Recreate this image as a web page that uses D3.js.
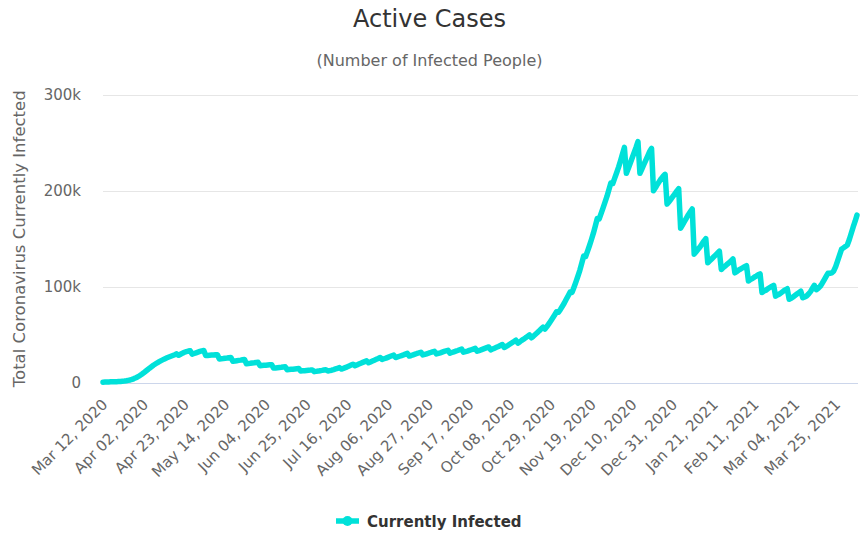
<!DOCTYPE html>
<html>
<head>
<meta charset="utf-8">
<script src="https://cdn.jsdelivr.net/npm/d3@7"></script>
<style>
  body { margin: 0; background: #fff; }
  .axis-label { font-family: "DejaVu Sans", sans-serif; fill: #666; }
</style>
</head>
<body>
<div id="chart-active"></div>
<script>
// daily values, thousands of people, starting Mar 12 2020 (one row = one week, Thu..Wed)
var startDate = "2020-03-12";
var currentlyInfectedK = [
    0.9, 1.0, 1.0, 1.1, 1.2, 1.2, 1.3,
    1.4, 1.5, 1.6, 1.8, 2.0, 2.3, 2.7,
    3.1, 3.8, 4.6, 5.5, 6.5, 7.7, 9.1,
    10.6, 12.2, 13.8, 15.4, 16.9, 18.4, 19.7,
    21.0, 22.2, 23.3, 24.3, 25.3, 26.2, 27.0,
    27.8, 28.6, 29.4, 30.3, 28.8, 29.9, 31.0,
    32.0, 32.7, 33.2, 33.5, 30.0, 30.7, 31.4,
    32.1, 32.8, 33.4, 33.8, 28.5, 28.7, 28.9,
    29.1, 29.2, 29.4, 29.5, 25.0, 25.3, 25.5,
    25.8, 26.0, 26.3, 26.5, 22.5, 22.8, 23.2,
    23.5, 23.8, 24.2, 24.5, 20.0, 20.3, 20.5,
    20.8, 21.0, 21.3, 21.5, 18.0, 18.2, 18.4,
    18.5, 18.7, 18.9, 19.0, 15.5, 15.7, 15.9,
    16.1, 16.3, 16.6, 16.8, 13.8, 14.0, 14.2,
    14.4, 14.6, 14.8, 15.0, 12.5, 12.7, 12.8,
    13.0, 13.2, 13.4, 13.5, 11.8, 12.1, 12.4,
    12.8, 13.1, 13.5, 13.8, 12.5, 12.9, 13.3,
    13.9, 14.6, 15.3, 16.0, 14.5, 15.2, 16.0,
    16.8, 17.7, 18.6, 19.5, 18.0, 18.8, 19.7,
    20.6, 21.4, 22.2, 23.0, 21.0, 21.9, 22.8,
    23.7, 24.6, 25.5, 26.5, 24.5, 25.2, 25.9,
    26.7, 27.5, 28.3, 29.0, 26.5, 27.1, 27.8,
    28.5, 29.2, 30.0, 30.8, 28.0, 28.6, 29.3,
    30.0, 30.7, 31.3, 32.0, 29.2, 29.8, 30.4,
    31.0, 31.7, 32.4, 33.0, 30.2, 30.8, 31.4,
    32.1, 32.8, 33.4, 34.0, 31.0, 31.7, 32.4,
    33.1, 33.8, 34.6, 35.3, 32.0, 32.6, 33.2,
    33.9, 34.6, 35.3, 36.0, 33.0, 33.7, 34.4,
    35.2, 36.0, 36.8, 37.5, 34.5, 35.3, 36.2,
    37.1, 38.0, 39.0, 40.0, 37.0, 38.0, 39.2,
    40.5, 41.8, 43.1, 44.5, 41.5, 42.8, 44.3,
    45.6, 47.0, 48.5, 50.0, 47.0, 48.6, 50.4,
    52.2, 54.2, 56.1, 58.0, 56.0, 58.6, 61.5,
    64.5, 67.6, 70.8, 74.0, 73.5, 76.5, 79.8,
    83.2, 87.0, 90.8, 94.5, 94.2, 99.6, 105.2,
    111.0, 117.2, 124.5, 132.0, 131.6, 137.2, 143.0,
    149.2, 155.8, 163.2, 171.0, 170.6, 176.4, 182.2,
    188.0, 194.0, 201.0, 208.0, 207.4, 213.0, 218.6,
    224.5, 231.0, 238.0, 245.0, 218.0, 223.0, 228.5,
    234.0, 239.5, 245.0, 251.0, 218.0, 222.5, 227.0,
    231.5, 236.0, 240.5, 244.0, 200.0, 203.0, 206.5,
    209.5, 212.5, 215.0, 217.0, 186.0, 188.5, 191.0,
    194.0, 196.5, 199.5, 202.0, 161.0, 164.5, 168.0,
    171.5, 175.0, 178.0, 181.0, 134.0, 136.5, 139.0,
    141.5, 144.5, 147.5, 150.0, 125.0, 127.0, 129.0,
    131.0, 133.0, 135.0, 137.0, 118.0, 120.0, 121.5,
    123.5, 125.0, 127.0, 129.0, 114.5, 116.0, 117.5,
    118.5, 119.8, 121.0, 122.0, 106.0, 107.5, 108.5,
    110.0, 111.2, 112.5, 113.5, 94.0, 95.5, 96.5,
    98.0, 99.3, 100.5, 101.6, 90.3, 91.5, 92.5,
    94.0, 95.5, 96.8, 98.0, 87.0, 88.0, 89.5,
    91.0, 92.5, 94.0, 95.5, 88.6, 89.5, 90.5,
    92.5, 95.0, 98.5, 101.6, 97.0, 98.5, 100.5,
    103.5, 107.0, 110.5, 114.0, 114.0, 114.5, 116.5,
    121.0, 127.0, 133.0, 139.0, 140.5, 142.0, 143.5,
    149.0, 155.5, 162.0, 168.0, 174.5
];
var xTickLabels = ["Mar 12, 2020", "Apr 02, 2020", "Apr 23, 2020", "May 14, 2020", "Jun 04, 2020",
    "Jun 25, 2020", "Jul 16, 2020", "Aug 06, 2020", "Aug 27, 2020", "Sep 17, 2020", "Oct 08, 2020",
    "Oct 29, 2020", "Nov 19, 2020", "Dec 10, 2020", "Dec 31, 2020", "Jan 21, 2021", "Feb 11, 2021",
    "Mar 04, 2021", "Mar 25, 2021"];
var yTicks = [0, 100000, 200000, 300000];
var yTickLabels = ["0", "100k", "200k", "300k"];
var seriesName = "Currently Infected";

var lineColor = "#00e1d9";
var width = 866, height = 540;
var plot = { left: 103, right: 857, top: 94.5, bottom: 383 };

var parseIso = d3.utcParse("%Y-%m-%d");
var parseTick = d3.utcParse("%b %d, %Y");
var t0 = parseIso(startDate);

var data = currentlyInfectedK.map(function(v, i) {
    return { date: d3.utcDay.offset(t0, i), value: v * 1000 };
});

var x = d3.scaleUtc()
    .domain(d3.extent(data, function(d) { return d.date; }))
    .range([plot.left, plot.right]);
var y = d3.scaleLinear()
    .domain([0, 300000])
    .range([plot.bottom, plot.top]);

var svg = d3.select("#chart-active").append("svg")
    .attr("width", width)
    .attr("height", height)
    .style("font-family", "'DejaVu Sans', sans-serif");

// grid lines
svg.append("g")
    .selectAll("line")
    .data(yTicks.slice(1))
    .enter().append("line")
        .attr("x1", plot.left)
        .attr("x2", plot.right + 1)
        .attr("y1", function(d) { return Math.round(y(d)) + 0.5; })
        .attr("y2", function(d) { return Math.round(y(d)) + 0.5; })
        .attr("stroke", "#e6e6e6")
        .attr("stroke-width", 1);

// y labels
var yAxis = d3.axisLeft(y)
    .tickValues(yTicks)
    .tickFormat(function(d, i) { return yTickLabels[i]; })
    .tickSize(0)
    .tickPadding(0);
var gy = svg.append("g")
    .attr("transform", "translate(81,0)")
    .call(yAxis);
gy.select(".domain").remove();
gy.selectAll("text")
    .attr("class", "axis-label")
    .style("font-size", "15px")
    .attr("fill", "#666");

// x axis line + rotated labels
var xAxis = d3.axisBottom(x)
    .tickValues(xTickLabels.map(function(s) { return parseTick(s); }))
    .tickFormat(function(d, i) { return xTickLabels[i]; })
    .tickSize(0)
    .tickPadding(0);
var gx = svg.append("g")
    .attr("transform", "translate(0," + (plot.bottom + 0.5) + ")")
    .call(xAxis);
gx.select(".domain")
    .attr("d", "M" + plot.left + ",0H" + (plot.right + 1))
    .attr("stroke", "#ccd6eb");
gx.selectAll("text")
    .attr("class", "axis-label")
    .style("font-size", "15px")
    .attr("fill", "#666")
    .attr("y", 0)
    .attr("dy", 0)
    .style("text-anchor", "end")
    .attr("transform", "translate(5,22) rotate(-45)");

// axis title
svg.append("text")
    .attr("transform", "translate(24.5," + ((plot.top + plot.bottom) / 2) + ") rotate(-90)")
    .attr("text-anchor", "middle")
    .style("font-size", "16.5px")
    .attr("fill", "#666")
    .text("Total Coronavirus Currently Infected");

// line
var line = d3.line()
    .x(function(d) { return x(d.date); })
    .y(function(d) { return y(d.value); });

svg.append("path")
    .datum(data)
    .attr("d", line)
    .attr("fill", "none")
    .attr("stroke", lineColor)
    .attr("stroke-width", 5.5)
    .attr("stroke-linejoin", "round")
    .attr("stroke-linecap", "round");

// titles
svg.append("text")
    .attr("x", 429.5).attr("y", 26.5)
    .attr("text-anchor", "middle")
    .style("font-size", "24px")
    .attr("fill", "#333")
    .text("Active Cases");
svg.append("text")
    .attr("x", 429.5).attr("y", 66)
    .attr("text-anchor", "middle")
    .style("font-size", "16px")
    .attr("fill", "#666")
    .text("(Number of Infected People)");

// legend
var legend = svg.append("g").attr("transform", "translate(336,521)");
legend.append("line")
    .attr("x1", 0).attr("x2", 23)
    .attr("stroke", lineColor)
    .attr("stroke-width", 5.5);
legend.append("circle")
    .attr("cx", 11.5).attr("r", 5)
    .attr("fill", lineColor);
legend.append("text")
    .attr("x", 31).attr("y", 5.5)
    .style("font-size", "15px")
    .style("font-weight", "bold")
    .attr("fill", "#333")
    .text(seriesName);
</script>
</body>
</html>
